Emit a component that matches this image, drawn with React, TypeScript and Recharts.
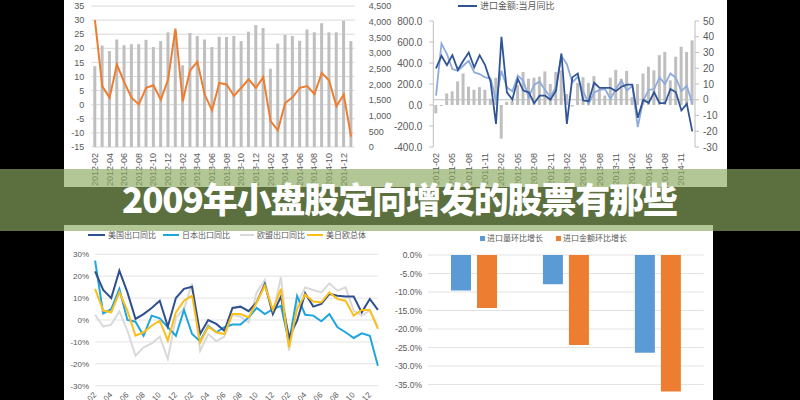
import React from "react";
import {
  ComposedChart,
  LineChart,
  BarChart,
  Bar,
  Line,
  XAxis,
  YAxis,
  CartesianGrid,
  ReferenceLine,
} from "recharts";

// ---------- Chart A (top-left): monthly bars + orange line ----------
const monthsA = [
  "2012-02", "2012-03", "2012-04", "2012-05", "2012-06", "2012-07", "2012-08", "2012-09", "2012-10", "2012-11", "2012-12",
  "2013-01", "2013-02", "2013-03", "2013-04", "2013-05", "2013-06", "2013-07", "2013-08", "2013-09", "2013-10", "2013-11", "2013-12",
  "2014-01", "2014-02", "2014-03", "2014-04", "2014-05", "2014-06", "2014-07", "2014-08", "2014-09", "2014-10", "2014-11", "2014-12",
  "2015-01",
];
const barsA = [
  2580, 3240, 3060, 3430, 3250, 3280, 3280, 3420, 3190, 3380, 3660, 3700,
  2610, 3635, 3540, 3430, 3190, 3520, 3510, 3540, 3380, 3680, 3890, 3800,
  2500, 3300, 3580, 3540, 3390, 3750, 3660, 3950, 3660, 3660, 4030, 3380,
];
const lineA = [
  30, 6.5, 2.5, 14.2, 8, 2.5, 0.1, 6, 6.9, 1.8, 8.9, 27,
  1.2, 12.2, 15.2, 3.6, -2, 7.7, 7.2, 3.1, 6, 9, 6, 9.8,
  -5.8, -9.1, 0.6, 2.6, 6, 6.6, 3.8, 11.3, 8.6, -0.6, 3.6, -11.3,
];
const leftTicksA = [-15, -10, -5, 0, 5, 10, 15, 20, 25, 30, 35];
const rightTicksA = [0, 500, 1000, 1500, 2000, 2500, 3000, 3500, 4000, 4500];

// ---------- Chart B (top-right): import value yoy ----------
const monthsB = [
  "2011-02", "2011-03", "2011-04", "2011-05", "2011-06", "2011-07", "2011-08", "2011-09", "2011-10", "2011-11", "2011-12",
  "2012-01", "2012-02", "2012-03", "2012-04", "2012-05", "2012-06", "2012-07", "2012-08", "2012-09", "2012-10", "2012-11", "2012-12",
  "2013-01", "2013-02", "2013-03", "2013-04", "2013-05", "2013-06", "2013-07", "2013-08", "2013-09", "2013-10", "2013-11", "2013-12",
  "2014-01", "2014-02", "2014-03", "2014-04", "2014-05", "2014-06", "2014-07", "2014-08", "2014-09", "2014-10", "2014-11", "2014-12",
  "2015-01",
];
const barsB = [
  -80, -10, 110, 130, 225, 300, 175, 145, 170, 145, 60, 260,
  -320, 30, 40, 190, 315, 250, 260, 270, 320, 200, 315, 330,
  105, -15, 210, 265, 210, 275, 155, 90, 260, 335, 250, 325,
  75, 200, 300, 365, 330, 475, 505, 235, 460, 555, 505, 615,
];
const importYoy = [
  19.9, 27.9, 22, 28.3, 19, 24.7, 30, 20.5, 28.3, 22, 11.5, -15.3,
  39.9, 4.7, 0.1, 13.2, 5.8, 4.7, -2.2, 2.6, 2.6, 0.1, 5.8, 29.4,
  -15.3, 14.2, 16.7, -0.5, -0.9, 10.8, 7.5, 7.5, 7.5, 5.4, 8.3, 9.6,
  9.6, -11.5, -0.1, -2, 4.7, -2.2, -2.2, 6.8, 4.7, -6.8, -2.6, -20.1,
];
const lightB = [
  2.6, 35.7, 29, 19.5, 18.4, 21.6, 24.7, 17.4, 16.3, 14.2, 13.6, -0.5,
  18.4, 7.9, 5.4, 15.3, 12.1, 1.6, 9.6, 11.5, 6.2, 1.6, 8.3, 27.9,
  22.6, 11, 14.6, 5.4, -2.6, 4.7, 6.2, 6.8, 0.5, 6.8, 12.1, 5.8,
  8.9, -17.4, -0.5, 6.2, 6.8, 14.2, 10, 16.7, 13.8, 5.4, 8.9, -2.6,
];
const leftTicksB = [-400, -200, 0, 200, 400, 600, 800];
const rightTicksB = [-30, -20, -10, 0, 10, 20, 30, 40, 50];

// ---------- Chart C (bottom-left): export yoy ----------
const usExport = [
  22.2, 13.7, 10, 22.5, 12.6, 0.5, 2.7, 5.5, 8.8, -3, 10, 14.2,
  15.2, -6.4, 0, -1.8, -4.9, 5.5, 6.1, 4, 8.1, 16.4, 2.7, 10.7,
  -7.9, -0.3, 12.2, 6.1, 7.3, 11.9, 11.1, 10.7, 10.7, 3.5, 9.6, 4.6,
];
const jpExport = [
  27.1, 3, 5, 14.2, 0, -0.8, -7.2, 2, 0.8, -3.3, -7.2, 4.6,
  -6.4, -9.7, -2.6, -5.6, -3.3, -2.1, -2.1, 1.2, 5.5, 2.7, 5, 6.5,
  -10.2, 11, 2.4, 2, -0.6, 2.7, -3.3, -5.6, -8.2, -6.1, -7.2, -20.9,
];
const euExport = [
  2.4, -3, -2.1, 4, -4.9, -16.3, -12.5, -10.7, -7.6, -17.8, 1.2, 5,
  16.7, -14, -6.4, -9.7, -7.6, 2.4, 1.5, -1.1, 12.6, 18.3, 3, 19.5,
  -14, 7.3, 14.9, 13.7, 12.6, 16.7, 13.4, 14.9, 4.3, 2, 4.3, -3,
];
const totalExport = [
  14.2, 4.3, 3.5, 12.6, 4.3, -7.2, -5.6, -2.6, -0.3, -9.4, 3.5, 8.8,
  11.1, -10.2, -3, -5.6, -6.4, 2.7, 2.7, 1.2, 8.1, 15.7, 4.6, 14.2,
  -12.5, 5, 11.6, 8.4, 8.1, 12.6, 9.6, 8.8, 2, 4.6, 4.6, -4.1,
];
const ticksC = [-30, -20, -10, 0, 10, 20, 30];

// ---------- Chart D (bottom-right): month-on-month import growth ----------
const periodsD = ["1月", "2月", "3月"];
const volumeMoM = [-9.6, -7.9, -26.4];
const valueMoM = [-14.3, -24.3, -36.9];
const ticksD = [-40, -35, -30, -25, -20, -15, -10, -5, 0];

const tickFont = "'Liberation Sans', Arial, sans-serif";
const cjkFont = "'Noto Sans CJK SC', sans-serif";
const tickColor = "#595959";

const VTick = (props: any) => {
  const { x, y, payload } = props;
  return (
    <text
      x={x}
      y={y}
      transform={`rotate(-90, ${x}, ${y})`}
      textAnchor="end"
      dominantBaseline="central"
      fontSize={9}
      fill={tickColor}
      fontFamily={tickFont}
    >
      {payload.value}
    </text>
  );
};

const DiagTick = (props: any) => {
  const { x, y, payload } = props;
  return (
    <text
      x={x}
      y={y}
      transform={`rotate(-45, ${x}, ${y})`}
      textAnchor="end"
      dominantBaseline="central"
      fontSize={8}
      fill={tickColor}
      fontFamily={tickFont}
    >
      {payload.value}
    </text>
  );
};

const LegLine = ({ x, y, w, color, label, font = 8, gap = 3 }: any) => (
  <div
    style={{
      position: "absolute",
      left: x,
      top: y - 6,
      height: 12,
      display: "flex",
      alignItems: "center",
      whiteSpace: "nowrap",
    }}
  >
    <span style={{ display: "inline-block", width: w, height: 2, background: color, marginRight: gap }} />
    <span style={{ fontSize: font, color: tickColor, fontFamily: cjkFont, lineHeight: "12px" }}>{label}</span>
  </div>
);

const LegSquare = ({ x, y, color, label, font = 8 }: any) => (
  <div
    style={{
      position: "absolute",
      left: x,
      top: y - 6,
      height: 12,
      display: "flex",
      alignItems: "center",
      whiteSpace: "nowrap",
    }}
  >
    <span style={{ display: "inline-block", width: 5, height: 5, background: color, marginRight: 2 }} />
    <span style={{ fontSize: font, color: tickColor, fontFamily: cjkFont, lineHeight: "12px" }}>{label}</span>
  </div>
);

export default function App() {
  const dataA = monthsA.map((m, i) => ({ m, bar: barsA[i], line: lineA[i] }));
  const dataB = monthsB.map((m, i) => ({ m, bar: barsB[i], yoy: importYoy[i], light: lightB[i] }));
  const dataC = monthsA.map((m, i) => ({
    m,
    us: usExport[i],
    jp: jpExport[i],
    eu: euExport[i],
    total: totalExport[i],
  }));
  const dataD = periodsD.map((c, i) => ({ c, vol: volumeMoM[i], val: valueMoM[i] }));

  const yTick = (fs: number) => ({ fontSize: fs, fill: tickColor, fontFamily: tickFont });

  return (
    <div
      style={{
        position: "fixed",
        left: 0,
        top: 0,
        width: 800,
        height: 400,
        background: "#000",
        overflow: "hidden",
      }}
    >
      {/* white panels */}
      <div style={{ position: "absolute", left: 64, top: 0, width: 663, height: 187, background: "#fff" }} />
      <div style={{ position: "absolute", left: 64, top: 225, width: 649, height: 175, background: "#fff" }} />

      {/* Chart A */}
      <div style={{ position: "absolute", left: 64, top: 0 }}>
        <ComposedChart width={330} height={187} data={dataA} margin={{ top: 6, right: 0, bottom: 0, left: 0 }}>
          <CartesianGrid vertical={false} stroke="#d9d9d9" yAxisId="l" />
          <XAxis
            dataKey="m"
            interval={1}
            height={40}
            tickLine={false}
            axisLine={false}
            tickSize={0}
            tickMargin={6}
            tick={(p: any) => <VTick {...p} />}
          />
          <YAxis
            yAxisId="l"
            orientation="left"
            width={27.3}
            domain={[-15, 35]}
            ticks={leftTicksA}
            interval={0}
            tickLine={false}
            axisLine={false}
            tickSize={0}
            tickMargin={7}
            tick={yTick(9)}
          />
          <YAxis
            yAxisId="r"
            orientation="right"
            width={39.3}
            domain={[0, 4500]}
            ticks={rightTicksA}
            interval={0}
            tickLine={false}
            axisLine={false}
            tickSize={0}
            tickMargin={14}
            tick={{ ...yTick(9), textAnchor: "start" }}
            tickFormatter={(v: number) => v.toLocaleString("en-US")}
          />
          <Bar yAxisId="r" dataKey="bar" fill="#bfbfbf" barSize={3} isAnimationActive={false} />
          <Line yAxisId="l" dataKey="line" stroke="#ed7d31" strokeWidth={2} dot={false} isAnimationActive={false} />
        </ComposedChart>
      </div>

      {/* Chart B */}
      <div style={{ position: "absolute", left: 386, top: 0 }}>
        <ComposedChart width={341} height={187} data={dataB} margin={{ top: 21, right: 0, bottom: 0, left: 0 }}>
          <XAxis
            dataKey="m"
            interval={2}
            height={40}
            tickLine={false}
            axisLine={false}
            tickSize={0}
            tickMargin={6}
            tick={(p: any) => <VTick {...p} />}
          />
          <YAxis
            yAxisId="l"
            orientation="left"
            width={47.3}
            domain={[-400, 800]}
            ticks={leftTicksB}
            interval={0}
            axisLine={{ stroke: "#bfbfbf" }}
            tickLine={{ stroke: "#bfbfbf" }}
            tickSize={4}
            tickMargin={7}
            tick={yTick(10)}
            tickFormatter={(v: number) => v.toFixed(1)}
          />
          <YAxis
            yAxisId="r"
            orientation="right"
            width={32}
            domain={[-30, 50]}
            ticks={rightTicksB}
            interval={0}
            axisLine={{ stroke: "#bfbfbf" }}
            tickLine={{ stroke: "#bfbfbf" }}
            tickSize={4}
            tickMargin={4}
            tick={yTick(10)}
          />
          <ReferenceLine yAxisId="r" y={0} stroke="#bfbfbf" />
          <Bar yAxisId="l" dataKey="bar" fill="#bfbfbf" barSize={3} isAnimationActive={false} />
          <Line yAxisId="r" dataKey="light" stroke="#8faadc" strokeWidth={1.8} dot={false} isAnimationActive={false} />
          <Line yAxisId="r" dataKey="yoy" stroke="#2f5597" strokeWidth={1.8} dot={false} isAnimationActive={false} />
        </ComposedChart>
      </div>
      <LegLine x={458} y={6} w={19} color="#2f5597" label="进口金额:当月同比" font={9} />

      {/* Chart C */}
      <div style={{ position: "absolute", left: 64, top: 227 }}>
        <LineChart width={321} height={173} data={dataC} margin={{ top: 27.3, right: 7.1, bottom: 0, left: 0 }}>
          <CartesianGrid vertical={false} stroke="#e3e3e3" />
          <XAxis
            dataKey="m"
            interval={1}
            height={14.3}
            tickLine={false}
            axisLine={false}
            tickSize={0}
            tickMargin={8}
            tick={(p: any) => <DiagTick {...p} />}
          />
          <YAxis
            width={31.1}
            domain={[-30, 30]}
            ticks={ticksC}
            interval={0}
            tickLine={false}
            axisLine={false}
            tickSize={0}
            tickMargin={6}
            tick={yTick(8)}
            tickFormatter={(v: number) => `${v}%`}
          />
          <Line dataKey="eu" stroke="#d9d9d9" strokeWidth={2} dot={false} isAnimationActive={false} />
          <Line dataKey="jp" stroke="#1ea5e0" strokeWidth={2} dot={false} isAnimationActive={false} />
          <Line dataKey="us" stroke="#2f4f8f" strokeWidth={2} dot={false} isAnimationActive={false} />
          <Line dataKey="total" stroke="#fbbf1a" strokeWidth={2} dot={false} isAnimationActive={false} />
        </LineChart>
      </div>
      <LegLine x={88} y={235} w={17} color="#2f4f8f" label="美国出口同比" />
      <LegLine x={163} y={235} w={16} color="#1ea5e0" label="日本出口同比" />
      <LegLine x={240} y={235} w={14} color="#d9d9d9" label="欧盟出口同比" />
      <LegLine x={307} y={235} w={16} color="#fbbf1a" label="美日欧总体" />

      {/* Chart D */}
      <div style={{ position: "absolute", left: 385, top: 227 }}>
        <BarChart
          width={328}
          height={200}
          data={dataD}
          margin={{ top: 28, right: 9.2, bottom: 24, left: 0 }}
          barGap={6}
        >
          <CartesianGrid vertical={false} stroke="#e3e3e3" />
          <XAxis dataKey="c" hide />
          <YAxis
            width={43}
            domain={[-40, 0]}
            ticks={ticksD}
            interval={0}
            tickLine={false}
            axisLine={false}
            tickSize={0}
            tickMargin={6}
            tick={yTick(8.5)}
            tickFormatter={(v: number) => `${v.toFixed(1)}%`}
          />
          <Bar dataKey="vol" fill="#5b9bd5" barSize={20} isAnimationActive={false} />
          <Bar dataKey="val" fill="#ed7d31" barSize={20} isAnimationActive={false} />
        </BarChart>
      </div>
      <LegSquare x={480} y={238} color="#5b9bd5" label="进口量环比增长" />
      <LegSquare x={556} y={238} color="#ed7d31" label="进口金额环比增长" />

      {/* title band overlay */}
      <div
        style={{
          position: "absolute",
          left: 0,
          top: 169,
          width: 800,
          height: 62,
          background: "rgba(139,170,95,0.66)",
        }}
      />
      <svg
        width={800}
        height={400}
        style={{ position: "absolute", left: 0, top: 0, pointerEvents: "none" }}
      >
        <text
          x={122}
          y={213}
          textLength={556}
          lengthAdjust="spacing"
          fontSize={35}
          fontWeight={900}
          fill="#ffffff"
          fontFamily={cjkFont}
        >
          2009年小盘股定向增发的股票有那些
        </text>
      </svg>
    </div>
  );
}
